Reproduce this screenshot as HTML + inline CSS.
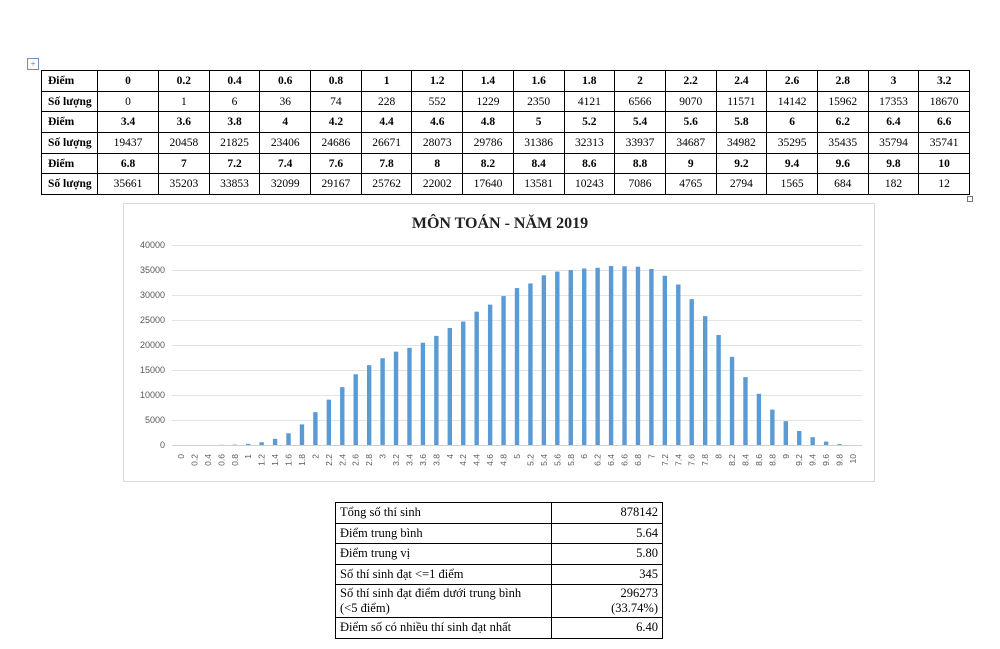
<!DOCTYPE html>
<html><head><meta charset="utf-8"><style>
body{margin:0;width:1000px;height:649px;background:#fff;position:relative;overflow:hidden;font-family:"Liberation Serif",serif;}
table{border-collapse:collapse;position:absolute;}
#t1{left:41px;top:70px;width:928px;font-size:11.5px;table-layout:fixed;}
#t1 td{border:1px solid #000;height:19.7px;padding:0;text-align:center;}
#t1 td:first-child{text-align:left;padding-left:6px;font-weight:bold;}
#t1 tr.h td{font-weight:bold;}
#t2{left:335px;top:502px;width:328px;font-size:12.5px;}
#t2 td{border:1px solid #000;padding:1px 4px;height:17.5px;line-height:15px;}
#t2 td:last-child{text-align:right;width:102px;}
</style></head><body>
<div style="position:absolute;left:27px;top:58px;width:10px;height:10px;border:1px solid #6a8fc0;font-size:9px;line-height:10px;text-align:center;color:#3a6db0;">+</div>
<table id="t1">
<colgroup><col style="width:56px"><col style="width:61px"><col span="16" style="width:50.7px"></colgroup>
<tr class="h"><td>Điểm</td><td>0</td><td>0.2</td><td>0.4</td><td>0.6</td><td>0.8</td><td>1</td><td>1.2</td><td>1.4</td><td>1.6</td><td>1.8</td><td>2</td><td>2.2</td><td>2.4</td><td>2.6</td><td>2.8</td><td>3</td><td>3.2</td></tr>
<tr><td>Số lượng</td><td>0</td><td>1</td><td>6</td><td>36</td><td>74</td><td>228</td><td>552</td><td>1229</td><td>2350</td><td>4121</td><td>6566</td><td>9070</td><td>11571</td><td>14142</td><td>15962</td><td>17353</td><td>18670</td></tr>
<tr class="h"><td>Điểm</td><td>3.4</td><td>3.6</td><td>3.8</td><td>4</td><td>4.2</td><td>4.4</td><td>4.6</td><td>4.8</td><td>5</td><td>5.2</td><td>5.4</td><td>5.6</td><td>5.8</td><td>6</td><td>6.2</td><td>6.4</td><td>6.6</td></tr>
<tr><td>Số lượng</td><td>19437</td><td>20458</td><td>21825</td><td>23406</td><td>24686</td><td>26671</td><td>28073</td><td>29786</td><td>31386</td><td>32313</td><td>33937</td><td>34687</td><td>34982</td><td>35295</td><td>35435</td><td>35794</td><td>35741</td></tr>
<tr class="h"><td>Điểm</td><td>6.8</td><td>7</td><td>7.2</td><td>7.4</td><td>7.6</td><td>7.8</td><td>8</td><td>8.2</td><td>8.4</td><td>8.6</td><td>8.8</td><td>9</td><td>9.2</td><td>9.4</td><td>9.6</td><td>9.8</td><td>10</td></tr>
<tr><td>Số lượng</td><td>35661</td><td>35203</td><td>33853</td><td>32099</td><td>29167</td><td>25762</td><td>22002</td><td>17640</td><td>13581</td><td>10243</td><td>7086</td><td>4765</td><td>2794</td><td>1565</td><td>684</td><td>182</td><td>12</td></tr>
</table>
<div style="position:absolute;left:967px;top:196px;width:4px;height:4px;border:1px solid #777;"></div>
<svg width="1000" height="649" style="position:absolute;left:0;top:0" xmlns="http://www.w3.org/2000/svg">
<rect x="123.5" y="203.5" width="751" height="278" fill="none" stroke="#d9d9d9"/>
<text x="500" y="228" text-anchor="middle" font-family="Liberation Serif" font-weight="bold" font-size="16" fill="#222">MÔN TOÁN - NĂM 2019</text>
<g stroke="#e3e3e3" stroke-width="1">
<line x1="172" x2="862" y1="245.5" y2="245.5"/><line x1="172" x2="862" y1="270.5" y2="270.5"/><line x1="172" x2="862" y1="295.5" y2="295.5"/><line x1="172" x2="862" y1="320.5" y2="320.5"/><line x1="172" x2="862" y1="345.5" y2="345.5"/><line x1="172" x2="862" y1="370.5" y2="370.5"/><line x1="172" x2="862" y1="395.5" y2="395.5"/><line x1="172" x2="862" y1="420.5" y2="420.5"/><line x1="172" x2="862" y1="445.5" y2="445.5" stroke="#d0d0d0"/>
</g>
<g font-family="Liberation Sans" font-size="9" fill="#595959" text-anchor="end">
<text x="165" y="248">40000</text><text x="165" y="273">35000</text><text x="165" y="298">30000</text><text x="165" y="323">25000</text><text x="165" y="348">20000</text><text x="165" y="373">15000</text><text x="165" y="398">10000</text><text x="165" y="423">5000</text><text x="165" y="448">0</text>
</g>
<g id="bars" fill="#5b9bd5"></g>
<g id="labs" font-family="Liberation Sans" font-size="8.5" fill="#595959" text-anchor="end"></g>
</svg>
<script>
var d=[0,1,6,36,74,228,552,1229,2350,4121,6566,9070,11571,14142,15962,17353,18670,19437,20458,21825,23406,24686,26671,28073,29786,31386,32313,33937,34687,34982,35295,35435,35794,35741,35661,35203,33853,32099,29167,25762,22002,17640,13581,10243,7086,4765,2794,1565,684,182,12];
var b='',l='';
for(var i=0;i<51;i++){var x=181+i*13.44,h=d[i]*0.005;
b+='<rect x="'+(x-2.2).toFixed(2)+'" y="'+(445-h).toFixed(2)+'" width="4.4" height="'+h.toFixed(2)+'"/>';
var t=(Math.round(i*2)/10).toString();
l+='<text transform="translate('+(x+3).toFixed(2)+',454) rotate(-90)">'+t+'</text>';}
document.getElementById('bars').innerHTML=b;document.getElementById('labs').innerHTML=l;
</script>
<table id="t2">
<tr><td>Tổng số thí sinh</td><td>878142</td></tr>
<tr><td>Điểm trung bình</td><td>5.64</td></tr>
<tr><td>Điểm trung vị</td><td>5.80</td></tr>
<tr><td>Số thí sinh đạt &lt;=1 điểm</td><td>345</td></tr>
<tr><td>Số thí sinh đạt điểm dưới trung bình<br>(&lt;5 điểm)</td><td>296273<br>(33.74%)</td></tr>
<tr><td>Điểm số có nhiều thí sinh đạt nhất</td><td>6.40</td></tr>
</table>
</body></html>
